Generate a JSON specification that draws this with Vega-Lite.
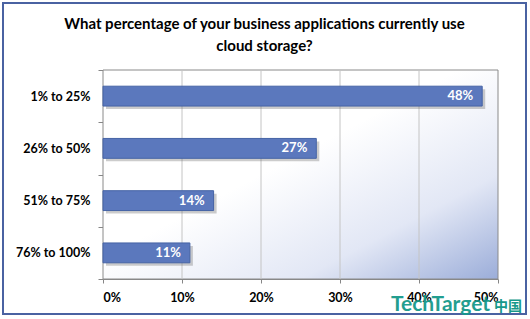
{
  "$schema": "https://vega.github.io/schema/vega-lite/v6.json",
  "width": 523,
  "height": 311,
  "autosize": {"type": "none"},
  "padding": {"left": 3, "top": 3, "right": 4, "bottom": 5},
  "background": "white",
  "title": {
    "text": ["What percentage of your business applications currently use", "cloud storage?"],
    "font": "Lato",
    "fontSize": 15,
    "fontWeight": "bold",
    "color": "black",
    "anchor": "middle",
    "baseline": "top",
    "offset": -57,
    "lineHeight": 22
  },
  "config": {
    "view": {"stroke": "#4a62a2", "strokeWidth": 2, "fill": "white"},
    "font": "Lato"
  },
  "datasets": {
    "bars": [
      {"range": "1% to 25%", "pct": 0.48},
      {"range": "26% to 50%", "pct": 0.27},
      {"range": "51% to 75%", "pct": 0.14},
      {"range": "76% to 100%", "pct": 0.11}
    ],
    "grid": [{"v": 0.1}, {"v": 0.2}, {"v": 0.3}, {"v": 0.4}],
    "one": [{}]
  },
  "resolve": {"scale": {"y": "independent"}},
  "layer": [
    {
      "data": {"name": "one"},
      "mark": {
        "type": "rect",
        "stroke": "#8a8a8a",
        "strokeWidth": 1,
        "fill": {
          "gradient": "linear",
          "x1": 0, "y1": 0, "x2": 1, "y2": 1,
          "stops": [
            {"offset": 0, "color": "#ffffff"},
            {"offset": 0.45, "color": "#ffffff"},
            {"offset": 0.75, "color": "#e2e7f5"},
            {"offset": 1, "color": "#9badd9"}
          ]
        }
      },
      "encoding": {
        "x": {
          "datum": 0,
          "type": "quantitative",
          "scale": {"domain": [0, 0.5], "range": [100, 495], "nice": false, "zero": true},
          "axis": {
            "orient": "bottom",
            "offset": -35,
            "values": [0, 0.1, 0.2, 0.3, 0.4, 0.5],
            "format": ".0%",
            "grid": false,
            "title": null,
            "domainColor": "#868686",
            "tickColor": "#868686",
            "tickSize": 4,
            "labelFont": "Lato",
            "labelFontSize": 12.5,
            "labelFontWeight": "bold",
            "labelColor": "black",
            "labelPadding": 8
          }
        },
        "x2": {"datum": 0.5},
        "y": {"datum": 0, "type": "quantitative", "scale": {"domain": [0, 1], "range": [276, 67]}, "axis": null},
        "y2": {"datum": 1}
      }
    },
    {
      "data": {"name": "grid"},
      "mark": {"type": "rule", "color": "#c4c4c4", "strokeWidth": 1},
      "encoding": {
        "x": {"field": "v", "type": "quantitative"},
        "y": {"datum": 0, "type": "quantitative", "scale": {"domain": [0, 1], "range": [276, 67]}, "axis": null},
        "y2": {"datum": 1}
      }
    },
    {
      "data": {"name": "bars"},
      "encoding": {
        "y": {
          "field": "range",
          "type": "nominal",
          "sort": null,
          "scale": {
            "domain": ["1% to 25%", "26% to 50%", "51% to 75%", "76% to 100%"],
            "range": [67, 276],
            "paddingInner": 0,
            "paddingOuter": 0
          },
          "axis": {
            "orient": "left",
            "offset": -100,
            "tickBand": "extent",
            "title": null,
            "domainColor": "#868686",
            "tickColor": "#868686",
            "tickSize": 5,
            "labelFont": "Lato",
            "labelFontSize": 12.5,
            "labelFontWeight": "bold",
            "labelColor": "black",
            "labelPadding": 8
          }
        },
        "x": {"field": "pct", "type": "quantitative"}
      },
      "layer": [
        {"mark": {"type": "bar", "height": {"band": 0.38}, "color": "#6d6d6d", "opacity": 0.35, "xOffset": 3, "yOffset": 3}},
        {"mark": {"type": "bar", "height": {"band": 0.38}, "fill": "#5b78bd", "stroke": "#4563a5", "strokeWidth": 1}},
        {
          "mark": {"type": "text", "align": "right", "baseline": "middle", "dx": -9, "color": "white", "fontWeight": "bold", "fontSize": 13, "font": "Lato"},
          "encoding": {"text": {"field": "pct", "type": "quantitative", "format": ".0%"}}
        }
      ]
    },
    {
      "data": {"name": "one"},
      "layer": [
        {
          "mark": {"type": "text", "text": "TechTarget", "align": "right", "baseline": "alphabetic", "font": "Lato", "fontWeight": "bold", "fontSize": 21, "color": "#17998b", "opacity": 0.95},
          "encoding": {"x": {"datum": 0.49, "type": "quantitative"}}
        },
        {
          "mark": {"type": "text", "text": "中国", "align": "left", "baseline": "alphabetic", "font": "Noto Sans CJK SC", "fontWeight": "bold", "fontSize": 14, "color": "#17998b"},
          "encoding": {"x": {"datum": 0.4949, "type": "quantitative"}}
        }
      ],
      "encoding": {
        "y": {"datum": 0, "type": "quantitative", "scale": {"domain": [0, 1], "range": [308, 0]}, "axis": null}
      }
    }
  ]
}
